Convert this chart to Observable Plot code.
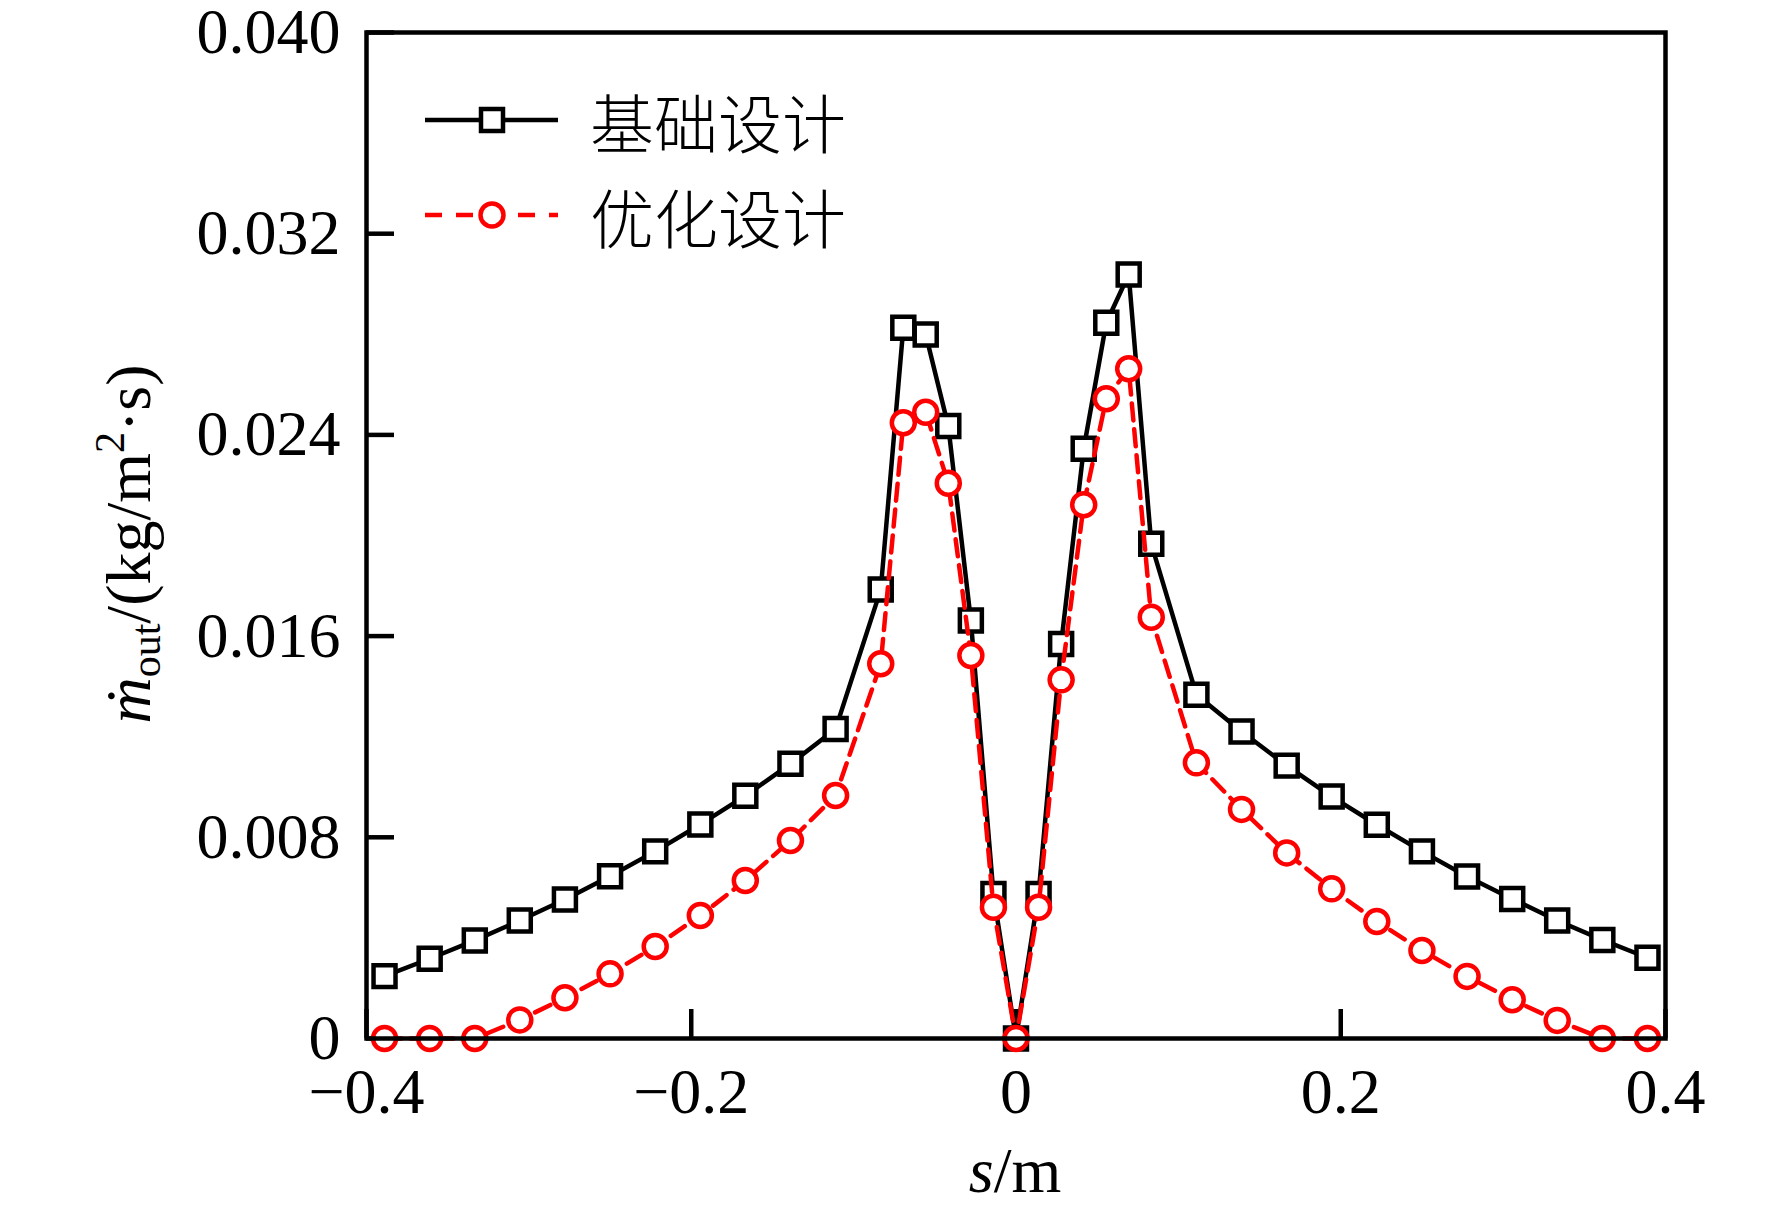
<!DOCTYPE html>
<html><head><meta charset="utf-8">
<script src="https://cdn.jsdelivr.net/npm/d3@7"></script>
<script src="https://cdn.jsdelivr.net/npm/@observablehq/plot@0.6"></script>
<style>body{margin:0;background:#fff}</style>
</head><body><div id="chart"></div>
<script>
const sValues = [
  -0.3889, -0.3611, -0.3333, -0.3056, -0.2778, -0.25, -0.2222, -0.1944, -0.1667, -0.1389, -0.1111,
  -0.0833, -0.0694, -0.0556, -0.0417, -0.0278, -0.0139, 0, 0.0139, 0.0278, 0.0417, 0.0556, 0.0694, 0.0833,
  0.1111, 0.1389, 0.1667, 0.1944, 0.2222, 0.25, 0.2778, 0.3056, 0.3333, 0.3611, 0.3889
];
const baseValues = [
  0.00248, 0.00317, 0.0039, 0.00469, 0.00553, 0.00645, 0.00744, 0.00851, 0.00965, 0.01092, 0.01231,
  0.01785, 0.02826, 0.02799, 0.02435, 0.01662, 0.00575, 0, 0.00575, 0.01569, 0.02345, 0.02846, 0.03038, 0.01967,
  0.01367, 0.01221, 0.01085, 0.00962, 0.0085, 0.00744, 0.00644, 0.00555, 0.00469, 0.00392, 0.00321
];
const optValues = [
  0, 0, 0, 0.00074, 0.00162, 0.00257, 0.00366, 0.00489, 0.00628, 0.00787, 0.00966,
  0.0149, 0.02448, 0.0249, 0.02208, 0.01523, 0.00522, 0, 0.00522, 0.01426, 0.02122, 0.02544, 0.02663, 0.01675,
  0.01096, 0.00911, 0.00738, 0.00595, 0.00465, 0.0035, 0.00247, 0.00154, 0.00072, 0, 0
];
const xTicks = [-0.4, -0.2, 0, 0.2, 0.4];
const yTicks = [0, 0.008, 0.016, 0.024, 0.032, 0.04];
const seriesNames = ["基础设计", "优化设计"];
const seriesColors = ["#000000", "#ff0000"];

const base = sValues.map((s, i) => ({s, v: baseValues[i]}));
const opt = sValues.map((s, i) => ({s, v: optValues[i]}));

const fmtX = d => d === 0 ? "0" : (d < 0 ? "\u2212" : "") + Math.abs(d).toFixed(1);
const fmtY = d => d === 0 ? "0" : d.toFixed(3);

const serif = "'Liberation Serif', 'Times New Roman', serif";

const chart = Plot.plot({
  width: 1772, height: 1209,
  marginLeft: 366, marginRight: 107, marginTop: 32, marginBottom: 171,
  x: {domain: [-0.4, 0.4]},
  y: {domain: [0, 0.04]},
  style: {fontFamily: serif, fontSize: "64px", background: "#fff", color: "#000"},
  marks: [
    Plot.axisX({ticks: xTicks, tickSize: -29, tickPadding: 58, tickFormat: fmtX, strokeWidth: 4.5, label: null}),
    Plot.axisY({ticks: yTicks, tickSize: -28, tickPadding: 54, tickFormat: fmtY, strokeWidth: 4.5, label: null}),
    Plot.line(base, {x: "s", y: "v", stroke: seriesColors[0], strokeWidth: 4.5}),
    Plot.dot(base, {x: "s", y: "v", symbol: "square", r: 12.4, stroke: seriesColors[0], strokeWidth: 4.5, fill: "#fff"}),
    Plot.line(opt, {x: "s", y: "v", stroke: seriesColors[1], strokeWidth: 4.5, strokeDasharray: "17,9"}),
    Plot.dot(opt, {x: "s", y: "v", symbol: "circle", r: 11.5, stroke: seriesColors[1], strokeWidth: 4.5, fill: "#fff"}),
    Plot.frame({stroke: "#000", strokeWidth: 4.5})
  ]
});
document.getElementById("chart").appendChild(chart);

const svg = d3.select(chart);

// y-axis label
const yl = svg.append("text")
  .attr("transform", "translate(150,544) rotate(-90)")
  .attr("text-anchor", "middle")
  .attr("font-family", serif)
  .attr("font-size", 64)
  .attr("fill", "#000");
yl.append("tspan").attr("font-style", "italic").text("ṁ");
yl.append("tspan").attr("font-size", 42).attr("dy", 10).text("out");
yl.append("tspan").attr("dy", -10).text("/(kg/m");
yl.append("tspan").attr("font-size", 42).attr("dy", -26).text("2");
yl.append("tspan").attr("dy", 26).text("·s)");

// x-axis label
const xl = svg.append("text")
  .attr("x", 1015).attr("y", 1192)
  .attr("text-anchor", "middle")
  .attr("font-family", serif)
  .attr("font-size", 64)
  .attr("fill", "#000");
xl.append("tspan").attr("font-style", "italic").text("s");
xl.append("tspan").text("/m");

// legend
const legendY = [120, 215];
seriesNames.forEach((name, i) => {
  const g = svg.append("g");
  g.append("line")
    .attr("x1", 425).attr("x2", 558).attr("y1", legendY[i]).attr("y2", legendY[i])
    .attr("stroke", seriesColors[i]).attr("stroke-width", 4.5)
    .attr("stroke-dasharray", i === 1 ? "17,14" : null);
  if (i === 0) {
    g.append("rect").attr("x", 492 - 11).attr("y", legendY[i] - 11).attr("width", 22).attr("height", 22)
      .attr("fill", "#fff").attr("stroke", seriesColors[i]).attr("stroke-width", 4.5);
  } else {
    g.append("circle").attr("cx", 492).attr("cy", legendY[i]).attr("r", 11.5)
      .attr("fill", "#fff").attr("stroke", seriesColors[i]).attr("stroke-width", 4.5);
  }
  g.append("text")
    .attr("x", 590).attr("y", legendY[i])
    .attr("text-anchor", "start")
    .attr("dominant-baseline", "central")
    .attr("font-family", "'Noto Sans CJK SC', sans-serif")
    .attr("font-weight", 300)
    .attr("font-size", 64)
    .attr("fill", "#000")
    .text(name);
});
</script>
</body></html>
